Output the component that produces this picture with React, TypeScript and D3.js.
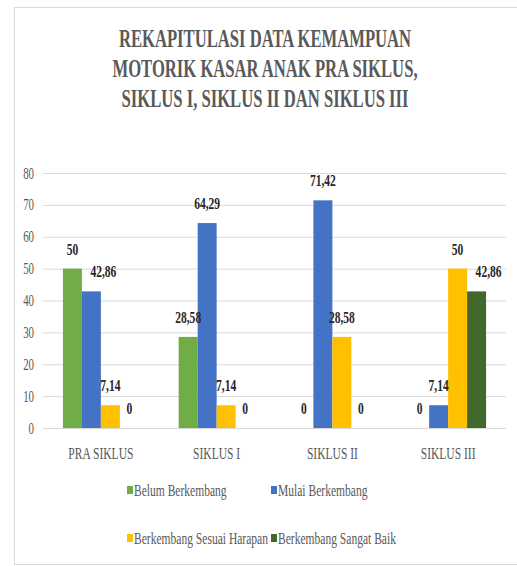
import React from "react";
import * as d3 from "d3";

// chart data
const categories = ["PRA SIKLUS", "SIKLUS I", "SIKLUS II", "SIKLUS III"];
const seriesNames = ["Belum Berkembang", "Mulai Berkembang", "Berkembang Sesuai Harapan", "Berkembang Sangat Baik"];
const belumBerkembang = [50, 28.58, 0, 0];
const mulaiBerkembang = [42.86, 64.29, 71.42, 7.14];
const sesuaiHarapan = [7.14, 7.14, 28.58, 50];
const sangatBaik = [0, 0, 0, 42.86];
const yTicks = [0, 10, 20, 30, 40, 50, 60, 70, 80];
const titleLines = [
  "REKAPITULASI DATA KEMAMPUAN",
  "MOTORIK KASAR ANAK PRA SIKLUS,",
  "SIKLUS I, SIKLUS II DAN SIKLUS III",
];

const seriesValues = [belumBerkembang, mulaiBerkembang, sesuaiHarapan, sangatBaik];
const colors = ["#70AD47", "#4472C4", "#FFC000", "#43682B"];

const W = 517;
const H = 566;
const plot = { left: 43, right: 506, top: 173, bottom: 428 };
const SX = 0.68; // narrow look of the original text
const FONT = '"Liberation Serif", serif';
const GRAY = "#595959";

const Txt = ({ x, y, size, anchor = "middle", bold = false, fill = GRAY, children }: any) => (
  <text
    transform={`translate(${x},${y}) scale(${SX},1)`}
    textAnchor={anchor}
    fontSize={size}
    fontWeight={bold ? "bold" : "normal"}
    style={{ fontFamily: FONT }}
    fill={fill}
  >
    {children}
  </text>
);

const fmt = (v: number) => String(v).replace(".", ",");

export default function App() {
  const x0 = d3.scaleBand().domain(categories).range([plot.left, plot.right]).padding(0);
  const x1 = d3
    .scaleBand()
    .domain(seriesNames)
    .range([0, x0.bandwidth()])
    .paddingInner(0)
    .paddingOuter(1.05);
  const y = d3.scaleLinear().domain([0, 80]).range([plot.bottom, plot.top]);

  return (
    <svg width={W} height={H} style={{ position: "absolute", left: 0, top: 0, background: "#fff" }}>
      <rect x={14.5} y={7.5} width={W - 14} height={H - 9} fill="#fff" stroke="#D9D9D9" />

      {titleLines.map((t, i) => (
        <text
          key={t}
          transform={`translate(265,${47 + i * 30}) scale(0.64,1)`}
          textAnchor="middle"
          style={{ fontFamily: FONT }}
          fontWeight="bold"
          fontSize={26}
          fill={GRAY}
        >
          {t}
        </text>
      ))}

      {yTicks.map((t) => (
        <g key={t}>
          <line x1={plot.left} x2={plot.right} y1={y(t) + 0.5} y2={y(t) + 0.5} stroke="#D9D9D9" strokeWidth={1} />
          <Txt x={34} y={y(t) + 5.5} size={16} anchor="end">
            {t}
          </Txt>
        </g>
      ))}

      {categories.map((c, ci) => (
        <g key={c} transform={`translate(${x0(c)},0)`}>
          {seriesNames.map((s, si) => {
            const v = seriesValues[si][ci];
            const bx = x1(s)!;
            return (
              <rect key={s} x={bx} y={y(v)} width={x1.bandwidth()} height={y(0) - y(v)} fill={colors[si]} />
            );
          })}
          {seriesNames.map((s, si) => {
            const v = seriesValues[si][ci];
            const prev = si > 0 ? seriesValues[si - 1][ci] : null;
            // nudge a wide label to the right when it crowds the taller neighbour before it
            const crowded = prev !== null && prev > v && prev - v < 10 && fmt(v).length > 3;
            const cx = x1(s)! + x1.bandwidth() / 2 + (crowded ? 12 : 0);
            return (
              <Txt key={s} x={cx} y={y(v) - 14} size={17} bold fill="#262626">
                {fmt(v)}
              </Txt>
            );
          })}
          <Txt x={x0.bandwidth() / 2} y={459} size={17}>
            {c}
          </Txt>
        </g>
      ))}

      {seriesNames.map((s, i) => {
        const lx = 127 + (i % 2) * 144;
        const ly = 490 + Math.floor(i / 2) * 48;
        return (
          <g key={s}>
            <rect x={lx} y={ly - 4} width={6} height={8} fill={colors[i]} />
            <Txt x={lx + 7} y={ly + 5.5} size={17} anchor="start">
              {s}
            </Txt>
          </g>
        );
      })}
    </svg>
  );
}
